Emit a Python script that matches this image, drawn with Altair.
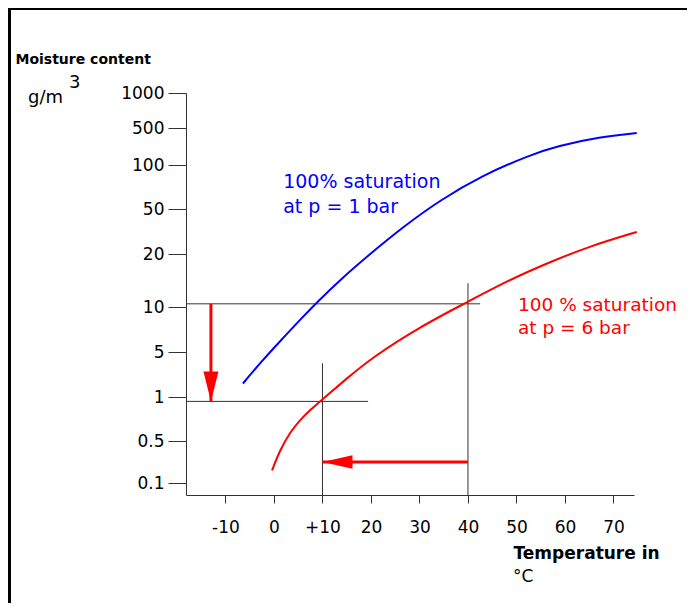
import altair as alt
import pandas as pd

FONT = "DejaVu Sans"
BLUE = "#0000ff"
RED = "#ff0000"
GRID = "#333333"

# ---- axis ticks ----
y_ticks = [0.1, 0.5, 1, 5, 10, 20, 50, 100, 500, 1000]
x_ticks = [-10, 0, 10, 20, 30, 40, 50, 60, 70]

# ---- curves: temperature (degC) vs moisture content (g/m3) ----
blue_t = [-6.4, -2.5, 1.6, 5.4, 9.1, 13.6, 19.8, 26.6, 34.2, 43.1, 52.8, 58.4, 67.2, 74.8]
blue_g = [2.2, 4.2, 6.4, 8.6, 11.1, 15.1, 20, 38, 60, 88.6, 208, 305, 403, 446]

red_t = [-0.4, 1.2, 3.3, 5.4, 7.4, 9.9, 14.6, 20.2, 30.1, 39.8, 48.0, 56.9, 65.2, 74.8]
red_g = [0.22, 0.41, 0.60, 0.74, 0.85, 0.97, 2.5, 4.5, 7.8, 10.9, 14.9, 18.5, 25.3, 34.7]

# ---- construction lines (black) ----
guide_t = [-18.14, -18.14, 10, 40]
guide_t2 = [42.5, 19.4, 10, 40]
guide_g = [10.6, 0.95, 0, 0]
guide_g2 = [10.6, 0.95, 4.0, 14.5]

# ---- red arrows (start -> tip) ----
arrow_t = [-13.0, 40]
arrow_t2 = [-13.0, 10]
arrow_g = [10.6, 0.3]
arrow_g2 = [0.95, 0.3]
arrow_dir = ["down", "left"]

# ---- curve labels ----
blue_lines = ["100% saturation", "at p = 1 bar"]
blue_lab_t = [1.9, 1.9]
blue_lab_g = [80.7, 52.3]
red_lines = ["100 % saturation", "at p = 6 bar"]
red_lab_t = [50.3, 50.3]
red_lab_g = [10.4, 7.7]

# scales
x_scale = alt.Scale(domain=[-18.14, 74.23], nice=False, zero=False)
y_dom = [0] + y_ticks
y_rng = [402, 390, 348, 304, 259, 214, 161, 116, 72, 35, 0]
y_scale = alt.Scale(domain=y_dom, range=y_rng, nice=False, zero=False)

x_axis = alt.Axis(
    values=x_ticks,
    labelExpr="datum.value == 10 ? '+10' : '' + datum.value",
    title="Temperature in",
    titleX=327, titleY=58, titleAlign="left", titleBaseline="middle",
    titleFont=FONT, titleFontSize=17, titleFontWeight="bold", titleColor="black",
    labelFont=FONT, labelFontSize=17, labelColor="black", labelPadding=16,
    tickSize=8, tickColor=GRID, domainColor=GRID, grid=False, labelFlush=False,
)
y_axis = alt.Axis(
    values=y_ticks,
    labelExpr="'' + datum.value",
    title="Moisture content",
    titleX=-171, titleY=-34, titleAngle=0, titleAlign="left", titleBaseline="middle",
    titleFont=FONT, titleFontSize=14, titleFontWeight="bold", titleColor="black",
    labelFont=FONT, labelFontSize=17, labelColor="black", labelPadding=4,
    tickSize=18, tickColor=GRID, domainColor=GRID, grid=False, labelFlush=False,
)


def X(f):
    return alt.X(f, type="quantitative", scale=x_scale, axis=x_axis)


def Y(f):
    return alt.Y(f, type="quantitative", scale=y_scale, axis=y_axis)


curves = pd.DataFrame({
    "t": blue_t + red_t,
    "g": blue_g + red_g,
    "s": ["p1"] * len(blue_t) + ["p6"] * len(red_t),
})
guides = pd.DataFrame({"t": guide_t, "t2": guide_t2, "g": guide_g, "g2": guide_g2})
arrows = pd.DataFrame({"t": arrow_t, "t2": arrow_t2, "g": arrow_g, "g2": arrow_g2, "d": arrow_dir})
labels_blue = pd.DataFrame({"t": blue_lab_t, "g": blue_lab_g, "txt": blue_lines})
labels_red = pd.DataFrame({"t": red_lab_t, "g": red_lab_g, "txt": red_lines})
one = pd.DataFrame({"k": [0]})

guide_layer = alt.Chart(guides).mark_rule(color=GRID, strokeWidth=1).encode(
    x=X("t"), x2="t2", y=Y("g"), y2="g2"
)

curve_layer = alt.Chart(curves).mark_line(strokeWidth=2, interpolate="basis").encode(
    x=X("t"), y=Y("g"),
    color=alt.Color("s:N", scale=alt.Scale(domain=["p1", "p6"], range=[BLUE, RED]), legend=None),
)

shaft_layer = alt.Chart(arrows).mark_rule(color=RED, strokeWidth=3).encode(
    x=X("t"), x2="t2", y=Y("g"), y2="g2"
)

head_down = alt.Chart(arrows).transform_filter("datum.d == 'down'").mark_point(
    shape="M-0.5,-2L0.5,-2L0,0Z", size=900, filled=True, color=RED, opacity=1, strokeWidth=0
).encode(x=X("t2"), y=Y("g2"))

head_left = alt.Chart(arrows).transform_filter("datum.d == 'left'").mark_point(
    shape="M0,0L2,-0.45L2,0.45Z", size=900, filled=True, color=RED, opacity=1, strokeWidth=0
).encode(x=X("t2"), y=Y("g2"))

blue_text = alt.Chart(labels_blue).mark_text(
    align="left", baseline="middle", font=FONT, fontSize=19, color=BLUE
).encode(x=X("t"), y=Y("g"), text="txt:N")

red_text = alt.Chart(labels_red).mark_text(
    align="left", baseline="middle", font=FONT, fontSize=18.5, color=RED
).encode(x=X("t"), y=Y("g"), text="txt:N")

unit_g = alt.Chart(one).mark_text(
    align="left", baseline="middle", font=FONT, fontSize=18, color="black", text="g/m"
).encode(x=alt.value(-158), y=alt.value(5))

unit_3 = alt.Chart(one).mark_text(
    align="left", baseline="middle", font=FONT, fontSize=18, color="black", text="3"
).encode(x=alt.value(-117), y=alt.value(-10))

unit_c = alt.Chart(one).mark_text(
    align="left", baseline="middle", font=FONT, fontSize=17, color="black", text="°C"
).encode(x=alt.value(327), y=alt.value(484))

frame_left = alt.Chart(one).mark_rule(color="black", strokeWidth=3).encode(
    x=alt.value(-176.5), y=alt.value(-85), y2=alt.value(510)
)
frame_top = alt.Chart(one).mark_rule(color="black", strokeWidth=2).encode(
    x=alt.value(-178), x2=alt.value(501), y=alt.value(-84)
)

chart = alt.layer(
    guide_layer, curve_layer, shaft_layer, head_down, head_left,
    blue_text, red_text, unit_g, unit_3, unit_c, frame_left, frame_top,
).properties(
    width=448, height=402,
    autosize=alt.AutoSizeParams(type="none"),
    padding={"left": 178, "top": 85, "right": 53, "bottom": 108},
    background="white",
).configure_view(stroke=None)

chart.save("out.html", embed_options={"renderer": "svg", "actions": False})
